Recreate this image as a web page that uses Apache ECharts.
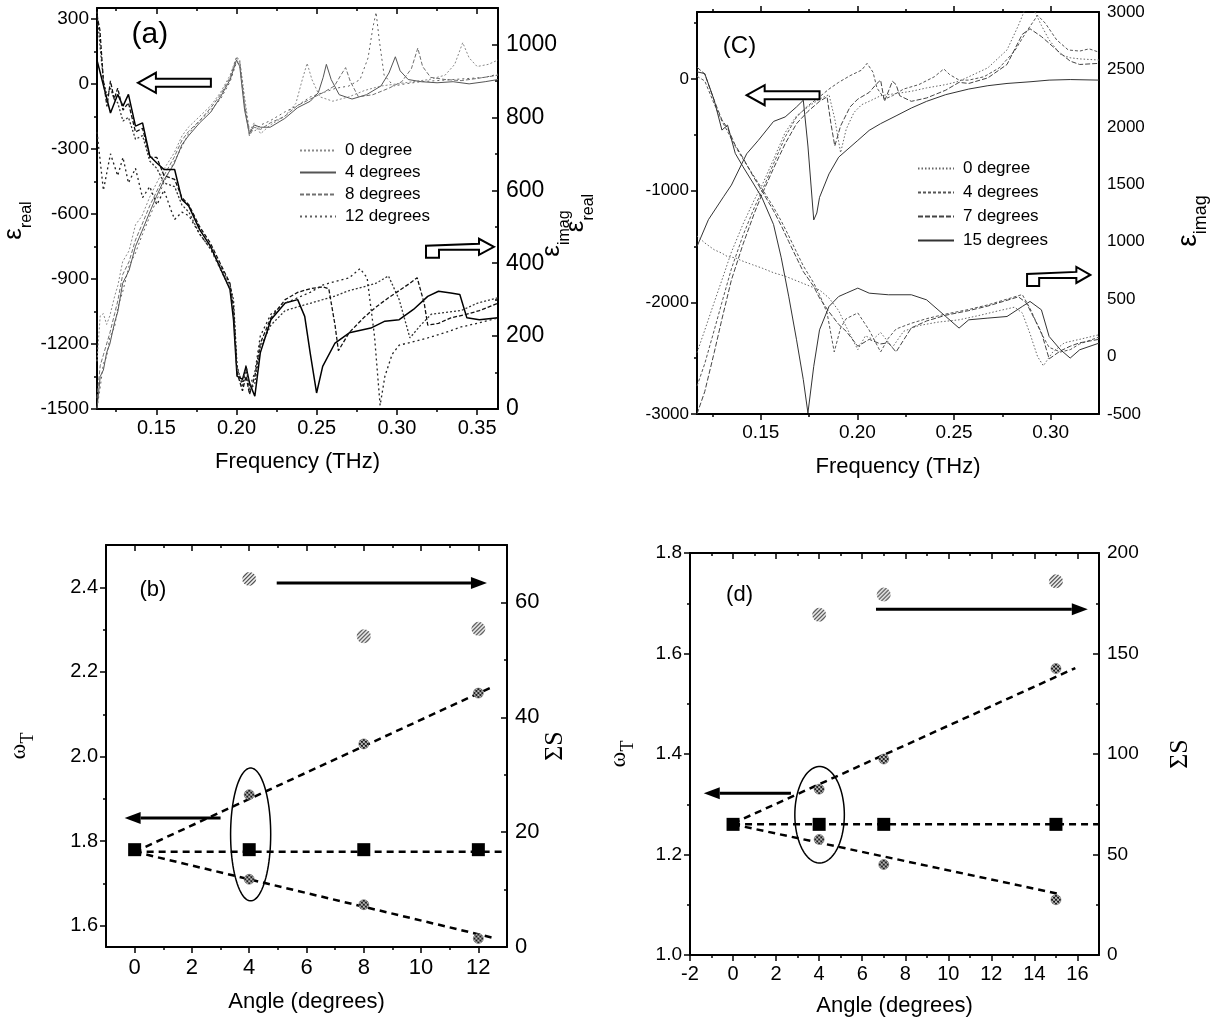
<!DOCTYPE html>
<html>
<head>
<meta charset="utf-8">
<title>Permittivity spectra and mode splitting versus tilt angle</title>
<script src="https://cdn.jsdelivr.net/npm/echarts@6/dist/echarts.min.js"></script>
<style>
  html, body { margin: 0; padding: 0; background: #fff; }
  #chart { width: 1220px; height: 1029px; }
</style>
</head>
<body>
<div id="chart"></div>
<script>
// ---------------- panel (a): permittivity, tilt angles 0 / 4 / 8 / 12 degrees ----------------
const aAngles = ['0 degree', '4 degrees', '8 degrees', '12 degrees'];

const aReal0 = [[0.113,-1280],[0.115,-1070],[0.117,-1060],[0.119,-1110],[0.121,-1070],[0.124,-980],[0.126,-930],[0.129,-820],[0.133,-770],[0.137,-650],[0.141,-610],[0.146,-520],[0.150,-460],[0.155,-390],[0.161,-320],[0.166,-240],[0.170,-200],[0.177,-150],[0.184,-100],[0.190,-40],[0.196,40],[0.200,125],[0.202,110],[0.205,-60],[0.208,-220],[0.211,-180],[0.215,-230],[0.221,-190],[0.230,-150],[0.237,-90],[0.241,20],[0.244,95],[0.247,20],[0.252,-60],[0.260,-80],[0.270,-60],[0.280,-30],[0.290,-10],[0.300,0],[0.310,10],[0.320,20],[0.330,40],[0.336,90],[0.341,190],[0.345,120],[0.350,80],[0.357,90],[0.363,110]];
const aReal4 = [[0.113,-1497],[0.115,-1350],[0.117,-1320],[0.119,-1240],[0.121,-1200],[0.124,-1100],[0.126,-1050],[0.129,-920],[0.133,-860],[0.137,-750],[0.141,-680],[0.146,-590],[0.150,-520],[0.155,-440],[0.161,-370],[0.166,-280],[0.170,-240],[0.177,-180],[0.184,-130],[0.190,-60],[0.196,20],[0.200,110],[0.202,80],[0.205,-120],[0.208,-230],[0.211,-190],[0.215,-200],[0.221,-200],[0.230,-160],[0.238,-110],[0.246,-80],[0.251,-40],[0.254,30],[0.256,90],[0.259,20],[0.264,-50],[0.272,-70],[0.281,-50],[0.290,-10],[0.295,50],[0.299,125],[0.302,60],[0.307,20],[0.315,10],[0.325,5],[0.335,10],[0.345,0],[0.355,10],[0.363,20]];
const aReal8 = [[0.113,-1450],[0.115,-1300],[0.117,-1250],[0.119,-1200],[0.121,-1150],[0.124,-1060],[0.126,-1000],[0.129,-880],[0.133,-820],[0.137,-720],[0.141,-650],[0.146,-560],[0.150,-500],[0.155,-420],[0.161,-340],[0.166,-260],[0.170,-220],[0.177,-170],[0.184,-110],[0.190,-50],[0.196,30],[0.200,120],[0.202,100],[0.205,-90],[0.208,-240],[0.211,-200],[0.215,-210],[0.221,-180],[0.230,-150],[0.238,-100],[0.246,-70],[0.254,-40],[0.261,-10],[0.265,40],[0.268,75],[0.271,10],[0.276,-60],[0.285,-50],[0.295,-20],[0.303,10],[0.309,70],[0.313,165],[0.316,80],[0.321,30],[0.330,20],[0.340,15],[0.350,25],[0.363,40]];
const aReal12 = [[0.113,-1497],[0.115,-1400],[0.117,-1290],[0.119,-1260],[0.121,-1170],[0.124,-1120],[0.126,-1030],[0.129,-960],[0.133,-840],[0.137,-780],[0.141,-700],[0.146,-610],[0.150,-540],[0.155,-450],[0.161,-360],[0.166,-290],[0.170,-230],[0.177,-170],[0.184,-120],[0.190,-70],[0.196,10],[0.200,100],[0.202,90],[0.205,-100],[0.208,-210],[0.211,-220],[0.215,-190],[0.221,-170],[0.230,-130],[0.238,-100],[0.246,-60],[0.254,-40],[0.262,-20],[0.270,-10],[0.277,20],[0.282,120],[0.285,260],[0.287,330],[0.289,200],[0.292,40],[0.298,-10],[0.305,0],[0.315,10],[0.325,15],[0.335,20],[0.345,25],[0.355,30],[0.363,45]];

const aImag0 = [[0.113,1090],[0.1148,1000],[0.117,900],[0.1192,860],[0.1214,880],[0.1237,850],[0.1259,840],[0.1292,790],[0.1326,800],[0.137,740],[0.1414,750],[0.1459,680],[0.1503,660],[0.1548,620],[0.1614,610],[0.1659,560],[0.1703,540],[0.177,480],[0.1837,440],[0.1903,390],[0.1959,340],[0.1981,300],[0.2003,120],[0.2037,60],[0.2059,110],[0.2081,50],[0.2114,70],[0.2148,170],[0.2214,230],[0.2303,270],[0.2381,280],[0.2459,290],[0.2537,300],[0.2614,310],[0.2703,325],[0.2792,335],[0.287,345],[0.2947,365],[0.3014,300],[0.3081,195],[0.3148,230],[0.3214,260],[0.3303,265],[0.340,270],[0.350,290],[0.363,305]];
const aImag4 = [[0.113,957],[0.1214,812],[0.1259,863],[0.1292,831],[0.1326,863],[0.137,776],[0.1414,785],[0.1459,694],[0.1503,675],[0.1548,657],[0.1614,657],[0.1659,575],[0.1703,556],[0.177,492],[0.1837,447],[0.1903,382],[0.1959,328],[0.1981,245],[0.2003,90],[0.2037,81],[0.2059,117],[0.2081,71],[0.2114,35],[0.2148,154],[0.2214,245],[0.2303,291],[0.2381,300],[0.2425,254],[0.2459,154],[0.2499,44],[0.2537,117],[0.2614,181],[0.2703,209],[0.2837,222],[0.2925,241],[0.3014,245],[0.3103,273],[0.3192,309],[0.3259,323],[0.3336,318],[0.3392,314],[0.3436,250],[0.3514,245],[0.363,250]];
const aImag8 = [[0.113,1080],[0.1148,1040],[0.117,900],[0.1192,830],[0.1214,900],[0.1237,850],[0.1259,880],[0.1292,820],[0.1326,840],[0.137,760],[0.1414,770],[0.1459,690],[0.1503,690],[0.1548,640],[0.1614,630],[0.1659,580],[0.1703,560],[0.177,500],[0.1837,455],[0.1903,395],[0.1959,345],[0.1981,280],[0.2003,100],[0.2037,50],[0.2059,90],[0.2081,40],[0.2114,90],[0.2148,180],[0.2214,250],[0.2303,300],[0.2381,320],[0.2459,330],[0.2537,335],[0.2575,330],[0.2614,230],[0.2635,160],[0.2703,210],[0.2792,250],[0.287,280],[0.2947,305],[0.3014,325],[0.3081,345],[0.3126,360],[0.317,290],[0.3192,230],[0.3259,235],[0.3336,250],[0.3436,260],[0.3514,270],[0.363,290]];
const aImag12 = [[0.113,760],[0.117,600],[0.1214,700],[0.1259,640],[0.1292,690],[0.1326,620],[0.137,660],[0.1414,580],[0.1459,610],[0.1503,560],[0.1548,600],[0.1592,545],[0.1614,520],[0.1659,540],[0.1703,530],[0.177,480],[0.1837,440],[0.1903,380],[0.1959,330],[0.1981,270],[0.2003,110],[0.2037,70],[0.2059,120],[0.2081,60],[0.2114,100],[0.2148,200],[0.2214,260],[0.2303,290],[0.2381,305],[0.2459,320],[0.2537,340],[0.2614,350],[0.2703,360],[0.277,385],[0.2814,360],[0.286,200],[0.2895,10],[0.2925,90],[0.297,150],[0.3014,175],[0.3103,185],[0.3192,195],[0.3303,210],[0.340,225],[0.350,235],[0.363,250]];

// ---------------- panel (c): permittivity, tilt angles 0 / 4 / 7 / 15 degrees ----------------
const cAngles = ['0 degree', '4 degrees', '7 degrees', '15 degrees'];

const cReal0 = [[0.117,-2450],[0.121,-2250],[0.1259,-2000],[0.1299,-1800],[0.1348,-1550],[0.1408,-1300],[0.1467,-1080],[0.1507,-950],[0.1566,-720],[0.1626,-480],[0.1685,-330],[0.1744,-250],[0.1804,-180],[0.1853,-140],[0.1883,-360],[0.1913,-660],[0.1942,-450],[0.1982,-300],[0.2022,-230],[0.2061,-200],[0.212,-150],[0.22,-130],[0.2279,-110],[0.2358,-80],[0.2457,-50],[0.2526,-20],[0.2576,20],[0.2675,100],[0.2774,260],[0.2833,480],[0.2873,650],[0.2913,620],[0.2952,480],[0.2992,350],[0.3051,220],[0.3101,190],[0.315,180],[0.325,170]];
const cReal4 = [[0.117,-2750],[0.121,-2550],[0.1259,-2250],[0.1299,-2000],[0.1348,-1700],[0.1408,-1400],[0.1467,-1150],[0.1507,-1000],[0.1566,-760],[0.1626,-520],[0.1685,-340],[0.1744,-240],[0.1804,-160],[0.1853,-90],[0.1903,-30],[0.1962,30],[0.2022,80],[0.205,140],[0.2081,60],[0.2101,-80],[0.2141,-180],[0.2181,-150],[0.2239,-90],[0.2318,-50],[0.2398,20],[0.2447,90],[0.2477,40],[0.2526,-10],[0.2576,-10],[0.2655,20],[0.2734,100],[0.2813,250],[0.2873,420],[0.2932,570],[0.2972,500],[0.3031,350],[0.3091,260],[0.315,250],[0.3199,270],[0.325,240]];
const cReal7 = [[0.117,-3000],[0.121,-2800],[0.1259,-2450],[0.1299,-2150],[0.1348,-1800],[0.1408,-1480],[0.1467,-1200],[0.1507,-1030],[0.1566,-800],[0.1626,-580],[0.1685,-400],[0.1744,-290],[0.1804,-200],[0.1843,-160],[0.1863,-400],[0.1883,-600],[0.1913,-420],[0.1962,-250],[0.2002,-180],[0.2061,-120],[0.2101,-40],[0.212,-10],[0.214,-200],[0.2181,-20],[0.22,-50],[0.2219,-150],[0.2279,-200],[0.2358,-170],[0.2457,-100],[0.2526,-30],[0.2576,-40],[0.2675,10],[0.2774,130],[0.2853,400],[0.2893,450],[0.2952,380],[0.2992,320],[0.3051,230],[0.3101,160],[0.315,130],[0.325,140]];
const cReal15 = [[0.117,-1500],[0.1229,-1260],[0.1309,-1050],[0.1348,-950],[0.1427,-670],[0.1487,-550],[0.1566,-380],[0.1626,-340],[0.1685,-250],[0.172,-190],[0.1744,-600],[0.1774,-1262],[0.179,-1200],[0.1804,-1060],[0.1853,-850],[0.1903,-700],[0.2002,-550],[0.2061,-460],[0.212,-400],[0.22,-330],[0.2279,-260],[0.2358,-200],[0.2457,-140],[0.2576,-90],[0.2675,-60],[0.2774,-40],[0.2893,-25],[0.2992,-10],[0.3101,-5],[0.325,-10]];

const cImag0 = [[0.117,1050],[0.121,990],[0.1259,930],[0.1299,900],[0.1328,870],[0.1368,860],[0.1408,830],[0.1457,800],[0.1507,770],[0.1566,730],[0.1626,700],[0.1685,660],[0.1744,620],[0.1804,580],[0.1853,510],[0.1903,400],[0.1942,260],[0.2002,60],[0.2041,180],[0.2081,150],[0.212,210],[0.2181,80],[0.2239,220],[0.2318,270],[0.2417,300],[0.2526,320],[0.2635,360],[0.2734,400],[0.2813,430],[0.2853,380],[0.2893,200],[0.2932,0],[0.2962,-80],[0.3011,40],[0.3071,120],[0.315,150],[0.325,190]];
const cImag4 = [[0.117,2440],[0.121,2400],[0.1259,2200],[0.1299,2050],[0.1328,1960],[0.1368,1830],[0.1408,1720],[0.1457,1590],[0.1507,1460],[0.1566,1300],[0.1606,1180],[0.1645,1050],[0.1685,910],[0.172,790],[0.1774,640],[0.1804,540],[0.1843,380],[0.188,40],[0.1913,250],[0.1942,330],[0.2002,380],[0.2061,230],[0.212,40],[0.216,160],[0.22,240],[0.2279,290],[0.2358,330],[0.2457,370],[0.2576,410],[0.2675,450],[0.2774,500],[0.2853,540],[0.2893,420],[0.2952,200],[0.2992,80],[0.3051,40],[0.3101,60],[0.315,110],[0.325,170]];
const cImag7 = [[0.117,2520],[0.121,2460],[0.1259,2230],[0.1299,2060],[0.1328,1990],[0.1368,1840],[0.1408,1730],[0.1457,1580],[0.1507,1440],[0.1566,1270],[0.1606,1140],[0.1645,1000],[0.1685,860],[0.172,740],[0.1774,610],[0.1804,510],[0.1853,390],[0.1903,280],[0.1942,220],[0.2002,90],[0.2061,150],[0.212,110],[0.216,120],[0.22,40],[0.2279,250],[0.2358,310],[0.2457,360],[0.2576,400],[0.2675,440],[0.2774,490],[0.2833,520],[0.2873,470],[0.2952,210],[0.2992,-20],[0.3051,50],[0.3101,90],[0.315,120],[0.325,150]];
const cImag15 = [[0.117,2479],[0.121,2464],[0.1259,2232],[0.1299,1972],[0.1328,2015],[0.1368,1769],[0.1408,1653],[0.1457,1520],[0.1507,1380],[0.1566,1150],[0.1606,860],[0.1645,520],[0.1685,146],[0.172,-201],[0.1744,-491],[0.1774,-85],[0.1804,233],[0.1853,436],[0.1903,523],[0.1942,552],[0.2002,596],[0.2061,552],[0.216,538],[0.2279,538],[0.2358,494],[0.2457,349],[0.2526,248],[0.2576,320],[0.2675,335],[0.2774,349],[0.2853,436],[0.2893,480],[0.2952,407],[0.2992,175],[0.3051,59],[0.3101,-13],[0.315,59],[0.325,117]];

// ---------------- panel (b): resonance frequency and oscillator strength, 0-12 degrees ----------------
const bAngles = [0, 4, 8, 12];
const bOmega = [1.78, 1.78, 1.78, 1.78];
const bModeAngles = [4, 8, 12];
const bModeHigh = [1.91, 2.03, 2.15];
const bModeLow = [1.71, 1.65, 1.57];
const bSumS = [64.1, 54.1, 55.4];
const bFitHigh = [[0, 1.775], [12.5, 2.165]];
const bFitLow = [[0, 1.775], [12.5, 1.572]];
const bFitFlat = [[0, 1.775], [12.95, 1.775]];

// ---------------- panel (d): resonance frequency and oscillator strength, 0-15 degrees ----------------
const dAngles = [0, 4, 7, 15];
const dOmega = [1.26, 1.26, 1.26, 1.26];
const dModeAngles = [4, 7, 15];
const dModeHigh = [1.33, 1.39, 1.57];
const dModeLow = [1.23, 1.18, 1.11];
const dSumS = [169.3, 179.3, 185.9];
const dFitHigh = [[0, 1.262], [15.9, 1.571]];
const dFitLow = [[0, 1.26], [15.1, 1.122]];
const dFitFlat = [[0, 1.26], [17, 1.26]];

// ---------------- axis ranges and tick values ----------------
const aX = [0.113, 0.363], aXMajor = [0.15, 0.20, 0.25, 0.30, 0.35], aXMinor = [0.125, 0.175, 0.225, 0.275, 0.325];
const aL = [-1500, 350], aLMajor = [-1500, -1200, -900, -600, -300, 0, 300], aLMinor = [-1350, -1050, -750, -450, -150, 150];
const aR = [0, 1100], aRMajor = [0, 200, 400, 600, 800, 1000], aRMinor = [100, 300, 500, 700, 900];

const cX = [0.117, 0.325], cXMajor = [0.15, 0.20, 0.25, 0.30], cXMinor = [0.125, 0.175, 0.225, 0.275];
const cL = [-3000, 600], cLMajor = [-3000, -2000, -1000, 0], cLMinor = [-2500, -1500, -500, 500];
const cR = [-500, 3000], cRLabels = [-500, 0, 500, 1000, 1500, 2000, 2500, 3000];

const bX = [-1, 13], bXMajor = [0, 2, 4, 6, 8, 10, 12], bXMinor = [1, 3, 5, 7, 9, 11];
const bL = [1.55, 2.5], bLMajor = [1.6, 1.8, 2.0, 2.2, 2.4], bLMinor = [1.7, 1.9, 2.1, 2.3];
const bR = [0, 70], bRMajor = [0, 20, 40, 60], bRMinor = [10, 30, 50];

const dX = [-2, 17], dXMajor = [-2, 0, 2, 4, 6, 8, 10, 12, 14, 16], dXMinor = [-1, 1, 3, 5, 7, 9, 11, 13, 15];
const dL = [1.0, 1.8], dLMajor = [1.0, 1.2, 1.4, 1.6, 1.8], dLMinor = [1.1, 1.3, 1.5, 1.7];
const dR = [0, 200], dRMajor = [0, 50, 100, 150, 200], dRMinor = [25, 75, 125, 175];

// ---------------- drawing ----------------
const FONT = '"Liberation Sans", Arial, sans-serif';
const SERIF = '"Liberation Serif", "DejaVu Serif", serif';
const xAxes = [], yAxes = [];
const plain = v => String(v);

function mkAxis(list, grid, position, range, o) {
  list.push({
    type: 'value', gridIndex: grid, position: position, min: range[0], max: range[1],
    axisLine: { show: !!o.line, onZero: false, lineStyle: { color: '#000', width: 2 } },
    axisTick: (o.ticks && o.ticks.length) ? { show: true, inside: !!o.inside, length: o.len || 5, customValues: o.ticks,
      lineStyle: { color: '#000', width: 1.5 } } : { show: false },
    axisLabel: o.labels ? { show: true, customValues: o.labels, margin: o.margin == null ? 8 : o.margin,
      color: '#000', fontFamily: FONT, fontSize: o.fontSize || 19, formatter: o.fmt || plain } : { show: false },
    splitLine: { show: false },
    name: o.name || '', nameLocation: 'middle', nameGap: o.nameGap || 0, nameMoveOverlap: false,
    nameRotate: o.nameRotate, nameTextStyle: o.nameStyle || {}
  });
  return list.length - 1;
}

// one frame = bottom/top x axes and left/right y axes, each with a major and a minor tick layer
function frame(g, p) {
  const ax = {};
  ax.x = mkAxis(xAxes, g, 'bottom', p.x, { line: true, ticks: p.xMajor, labels: p.xMajor, len: 6, fmt: p.xFmt,
    fontSize: p.xFont, margin: p.xMargin, name: p.xName, nameGap: p.xNameGap,
    nameStyle: { fontFamily: FONT, fontSize: 22, color: '#000' } });
  mkAxis(xAxes, g, 'bottom', p.x, { ticks: p.xMinor, len: 3 });
  mkAxis(xAxes, g, 'top', p.x, { line: true, ticks: p.xMajor, len: 6, inside: p.topIn });
  mkAxis(xAxes, g, 'top', p.x, { ticks: p.xMinor, len: 3, inside: p.topIn });
  ax.l = mkAxis(yAxes, g, 'left', p.l, { line: true, ticks: p.lMajor, labels: p.lMajor, len: 6, fmt: p.lFmt,
    fontSize: p.lFont, name: p.lName, nameGap: p.lNameGap, nameRotate: 90, nameStyle: p.lNameStyle });
  mkAxis(yAxes, g, 'left', p.l, { ticks: p.lMinor, len: 3 });
  ax.r = mkAxis(yAxes, g, 'right', p.r, { line: true, ticks: p.rMajor, labels: p.rLabels || p.rMajor, len: 6,
    inside: true, fontSize: p.rFont, name: p.rName, nameGap: p.rNameGap, nameRotate: 90, nameStyle: p.rNameStyle });
  mkAxis(yAxes, g, 'right', p.r, { ticks: p.rMinor, len: 3, inside: true });
  return ax;
}

// ε with a subscript; extra end padding slides the rotated title down along its axis
const epsStyle = (big, small, slide) => ({
  fontFamily: FONT, color: '#000', padding: [0, slide || 0, 0, 0],
  rich: {
    e: { fontFamily: FONT, fontSize: big, lineHeight: big + 8, verticalAlign: 'top', color: '#000' },
    s: { fontFamily: FONT, fontSize: small, lineHeight: big + 8, verticalAlign: 'bottom', color: '#000' }
  }
});
const omegaStyle = {
  fontFamily: SERIF, color: '#000',
  rich: {
    e: { fontFamily: SERIF, fontSize: 24, lineHeight: 30, verticalAlign: 'top', color: '#000' },
    s: { fontFamily: SERIF, fontSize: 18, lineHeight: 30, verticalAlign: 'bottom', color: '#000' }
  }
};
const sigmaStyle = { fontFamily: SERIF, fontSize: 26, color: '#000' };

const A = frame(0, {
  x: aX, xMajor: aXMajor, xMinor: aXMinor, xFmt: v => v.toFixed(2), xFont: 20, xMargin: 9,
  xName: 'Frequency (THz)', xNameGap: 42, topIn: true,
  l: aL, lMajor: aLMajor, lMinor: aLMinor, lFont: 19, lName: '{e|ε}{s|real}', lNameGap: 62, lNameStyle: epsStyle(26, 16, 24),
  r: aR, rMajor: aRMajor, rMinor: aRMinor, rFont: 23, rName: '{e|ε}{s|imag}', rNameGap: 41, rNameStyle: epsStyle(26, 16, 50)
});
const C = frame(1, {
  x: cX, xMajor: cXMajor, xMinor: cXMinor, xFmt: v => v.toFixed(2), xFont: 19, xMargin: 9,
  xName: 'Frequency (THz)', xNameGap: 42, topIn: false,
  l: cL, lMajor: cLMajor, lMinor: cLMinor, lFont: 17, lName: '{e|ε}{s|real}', lNameGap: 100, lNameStyle: epsStyle(26, 16, 0),
  r: cR, rMajor: [], rMinor: [], rLabels: cRLabels, rFont: 17, rName: '{e|ε}{s|imag}', rNameGap: 75, rNameStyle: epsStyle(28, 18, 16)
});
const B = frame(2, {
  x: bX, xMajor: bXMajor, xMinor: bXMinor, xFont: 22, xMargin: 10,
  xName: 'Angle (degrees)', xNameGap: 44, topIn: true,
  l: bL, lMajor: bLMajor, lMinor: bLMinor, lFmt: v => v.toFixed(1), lFont: 20, lName: '{e|ω}{s|T}', lNameGap: 69, lNameStyle: omegaStyle,
  r: bR, rMajor: bRMajor, rMinor: bRMinor, rFont: 22, rName: 'ΣS', rNameGap: 35, rNameStyle: sigmaStyle
});
const D = frame(3, {
  x: dX, xMajor: dXMajor, xMinor: dXMinor, xFont: 20, xMargin: 9,
  xName: 'Angle (degrees)', xNameGap: 40, topIn: true,
  l: dL, lMajor: dLMajor, lMinor: dLMinor, lFmt: v => v.toFixed(1), lFont: 19, lName: '{e|ω}{s|T}', lNameGap: 53, lNameStyle: omegaStyle,
  r: dR, rMajor: dRMajor, rMinor: dRMinor, rFont: 19, rName: 'ΣS', rNameGap: 68, rNameStyle: sigmaStyle
});

function curve(name, data, xi, yi, style) {
  return { type: 'line', name: name, data: data, xAxisIndex: xi, yAxisIndex: yi, symbol: 'none', showSymbol: false,
    lineStyle: style, itemStyle: { color: style.color }, clip: true, silent: true, z: 2 };
}

const aRealStyle = [
  { type: [2, 2], color: '#8a8a8a', width: 1 },
  { type: 'solid', color: '#555', width: 1 },
  { type: [4, 2], color: '#707070', width: 1 },
  { type: [2, 3], color: '#606060', width: 1 }
];
const aImagStyle = [
  { type: [2, 2], color: '#333', width: 1.3 },
  { type: 'solid', color: '#000', width: 1.5 },
  { type: [4, 2], color: '#111', width: 1.3 },
  { type: [2, 3], color: '#222', width: 1.3 }
];
const cStyle = [
  { type: [1.5, 2], color: '#666', width: 1 },
  { type: [3, 2], color: '#555', width: 1 },
  { type: [5, 2], color: '#444', width: 1 },
  { type: 'solid', color: '#333', width: 1 }
];

const series = [];
const aRealSets = [aReal0, aReal4, aReal8, aReal12], aImagSets = [aImag0, aImag4, aImag8, aImag12];
aAngles.forEach((n, k) => series.push(curve('a' + k, aRealSets[k], A.x, A.l, aRealStyle[k])));
aAngles.forEach((n, k) => series.push(curve('a' + k, aImagSets[k], A.x, A.r, aImagStyle[k])));
const cRealSets = [cReal0, cReal4, cReal7, cReal15], cImagSets = [cImag0, cImag4, cImag7, cImag15];
cAngles.forEach((n, k) => series.push(curve('c' + k, cRealSets[k], C.x, C.l, cStyle[k])));
cAngles.forEach((n, k) => series.push(curve('c' + k, cImagSets[k], C.x, C.r, cStyle[k])));

// hatched marker fills; symbols are drawn as unit shapes scaled by symbolSize / 2,
// so the pattern is scaled back to keep a fine hatch
function hatch(cross, ink, symbolSize) {
  const n = 4;
  const cv = document.createElement('canvas');
  cv.width = cv.height = n;
  const g = cv.getContext('2d');
  g.fillStyle = '#fff'; g.fillRect(0, 0, n, n);
  g.strokeStyle = ink; g.lineWidth = 1.1;
  g.beginPath();
  g.moveTo(-1, n + 1); g.lineTo(n + 1, -1);
  g.moveTo(-1, 1); g.lineTo(1, -1);
  g.moveTo(n - 1, n + 1); g.lineTo(n + 1, n - 1);
  if (cross) { g.moveTo(-1, -1); g.lineTo(n + 1, n + 1); }
  g.stroke();
  return { image: cv, repeat: 'repeat', scaleX: 2 / symbolSize, scaleY: 2 / symbolSize };
}
const MODE_SIZE = 10, SUM_SIZE = 14;
const diag = hatch(false, '#222', SUM_SIZE), cross = hatch(true, '#111', MODE_SIZE);

const zip = (xs, ys) => xs.map((x, i) => [x, ys[i]]);
const dashed = { type: [7, 5], color: '#000', width: 2.5 };
function anglePanel(ax, angles, omega, modeAngles, high, low, sumS, fits) {
  fits.forEach(f => series.push({ type: 'line', data: f, xAxisIndex: ax.x, yAxisIndex: ax.l, symbol: 'none',
    lineStyle: dashed, silent: true, z: 2 }));
  series.push({ type: 'scatter', data: zip(angles, omega), xAxisIndex: ax.x, yAxisIndex: ax.l, symbol: 'rect',
    symbolSize: 13, itemStyle: { color: '#000', opacity: 1 }, silent: true, z: 4 });
  series.push({ type: 'scatter', data: zip(modeAngles, high).concat(zip(modeAngles, low)), xAxisIndex: ax.x, yAxisIndex: ax.l,
    symbol: 'circle', symbolSize: MODE_SIZE, itemStyle: { color: cross, borderColor: '#555', borderWidth: 0.5, opacity: 1 }, silent: true, z: 4 });
  series.push({ type: 'scatter', data: zip(modeAngles, sumS), xAxisIndex: ax.x, yAxisIndex: ax.r,
    symbol: 'circle', symbolSize: SUM_SIZE, itemStyle: { color: diag, opacity: 1 }, silent: true, z: 4 });
}
anglePanel(B, bAngles, bOmega, bModeAngles, bModeHigh, bModeLow, bSumS, [bFitHigh, bFitLow, bFitFlat]);
anglePanel(D, dAngles, dOmega, dModeAngles, dModeHigh, dModeLow, dSumS, [dFitHigh, dFitLow, dFitFlat]);

// ---------------- annotations (anchored in data coordinates) ----------------
function note(ax, yi, anchor, render) {
  return { type: 'custom', xAxisIndex: ax.x, yAxisIndex: yi, data: [anchor], renderItem: render, silent: true, z: 10 };
}
function hollowArrow(tipAt, tailAt) {
  return (params, api) => {
    const tip = api.coord(tipAt), tail = api.coord(tailAt);
    const dir = tail[0] > tip[0] ? 1 : -1, y = tip[1], hx = tip[0] + dir * 18;
    return { type: 'polygon', shape: { points: [[tip[0], y], [hx, y - 10], [hx, y - 4], [tail[0], y - 4],
      [tail[0], y + 4], [hx, y + 4], [hx, y + 10]] }, style: { fill: '#fff', stroke: '#000', lineWidth: 2 } };
  };
}
const BENT = [[0, 0], [-15, -8], [-15, -3], [-68, -1], [-68, 11], [-55, 11], [-55, 3], [-15, 3], [-15, 8]];
function bentArrow(tipAt, scale) {
  return (params, api) => {
    const t = api.coord(tipAt);
    return { type: 'polygon', shape: { points: BENT.map(p => [t[0] + p[0] * scale, t[1] + p[1]]) },
      style: { fill: '#fff', stroke: '#000', lineWidth: 2 } };
  };
}
function solidArrow(fromAt, toAt) {
  return (params, api) => {
    const a = api.coord(fromAt), b = api.coord(toAt);
    const dir = Math.sign(b[0] - a[0]), base = b[0] - dir * 16;
    return { type: 'group', children: [
      { type: 'line', shape: { x1: a[0], y1: a[1], x2: base, y2: b[1] }, style: { stroke: '#000', lineWidth: 3 } },
      { type: 'polygon', shape: { points: [[b[0], b[1]], [base, b[1] - 6], [base, b[1] + 6]] }, style: { fill: '#000' } }
    ] };
  };
}
function ring(center, radii) {
  return (params, api) => {
    const c = api.coord(center), s = api.size(radii), pts = [];
    for (let k = 0; k < 90; k++) {
      const t = k / 90 * 2 * Math.PI;
      pts.push([c[0] + s[0] * Math.cos(t), c[1] + s[1] * Math.sin(t)]);
    }
    return { type: 'polygon', shape: { points: pts }, style: { fill: 'none', stroke: '#000', lineWidth: 1.5 } };
  };
}
function tag(at, text, size) {
  return (params, api) => {
    const p = api.coord(at);
    return { type: 'text', x: p[0], y: p[1], style: { text: text, fontFamily: FONT, fontSize: size, fill: '#000',
      align: 'center', verticalAlign: 'middle' } };
  };
}

series.push(note(A, A.l, [0.1385, 5], hollowArrow([0.1385, 5], [0.184, 5])));
series.push(note(A, A.r, [0.3605, 445], bentArrow([0.3605, 445], 1)));
series.push(note(A, A.l, [0.146, 225], tag([0.146, 225], '(a)', 30)));

series.push(note(C, C.l, [0.1427, -145], hollowArrow([0.1427, -145], [0.1804, -145])));
series.push(note(C, C.r, [0.3205, 711], bentArrow([0.3205, 711], 0.93)));
series.push(note(C, C.l, [0.139, 296], tag([0.139, 296], '(C)', 24)));

series.push(note(B, B.l, [4.96, 2.41], solidArrow([4.96, 2.41], [12.3, 2.41])));
series.push(note(B, B.l, [3.0, 1.855], solidArrow([3.0, 1.855], [-0.35, 1.855])));
series.push(note(B, B.l, [4.05, 1.816], ring([4.05, 1.816], [0.70, 0.157])));
series.push(note(B, B.l, [0.64, 2.394], tag([0.64, 2.394], '(b)', 22)));

series.push(note(D, D.l, [6.64, 1.688], solidArrow([6.64, 1.688], [16.48, 1.688])));
series.push(note(D, D.l, [2.69, 1.322], solidArrow([2.69, 1.322], [-1.36, 1.322])));
series.push(note(D, D.l, [4.02, 1.279], ring([4.02, 1.279], [1.15, 0.096])));
series.push(note(D, D.l, [0.3, 1.717], tag([0.3, 1.717], '(d)', 22)));

const legendText = { a0: aAngles[0], a1: aAngles[1], a2: aAngles[2], a3: aAngles[3],
                     c0: cAngles[0], c1: cAngles[1], c2: cAngles[2], c3: cAngles[3] };
const legendBase = {
  orient: 'vertical', itemWidth: 36, itemHeight: 12, selectedMode: false,
  itemStyle: { color: 'rgba(0,0,0,0)', borderColor: 'rgba(0,0,0,0)', borderWidth: 0, opacity: 0 },
  formatter: n => legendText[n],
  textStyle: { fontFamily: FONT, fontSize: 17, color: '#000', padding: [0, 0, 0, 4] }
};

const chart = echarts.init(document.getElementById('chart'), null, { renderer: 'canvas' });
chart.setOption({
  backgroundColor: '#fff',
  animation: false,
  grid: [
    { left: 97, top: 8, width: 401, height: 401 },
    { left: 697, top: 12, width: 402, height: 402 },
    { left: 106, top: 545, width: 401, height: 402 },
    { left: 690, top: 553, width: 409, height: 402 }
  ],
  xAxis: xAxes,
  yAxis: yAxes,
  legend: [
    Object.assign({}, legendBase, { left: 294, top: 137, itemGap: 5, data: ['a0', 'a1', 'a2', 'a3'] }),
    Object.assign({}, legendBase, { left: 912, top: 155, itemGap: 7, data: ['c0', 'c1', 'c2', 'c3'] })
  ],
  series: series
});
</script>
</body>
</html>
